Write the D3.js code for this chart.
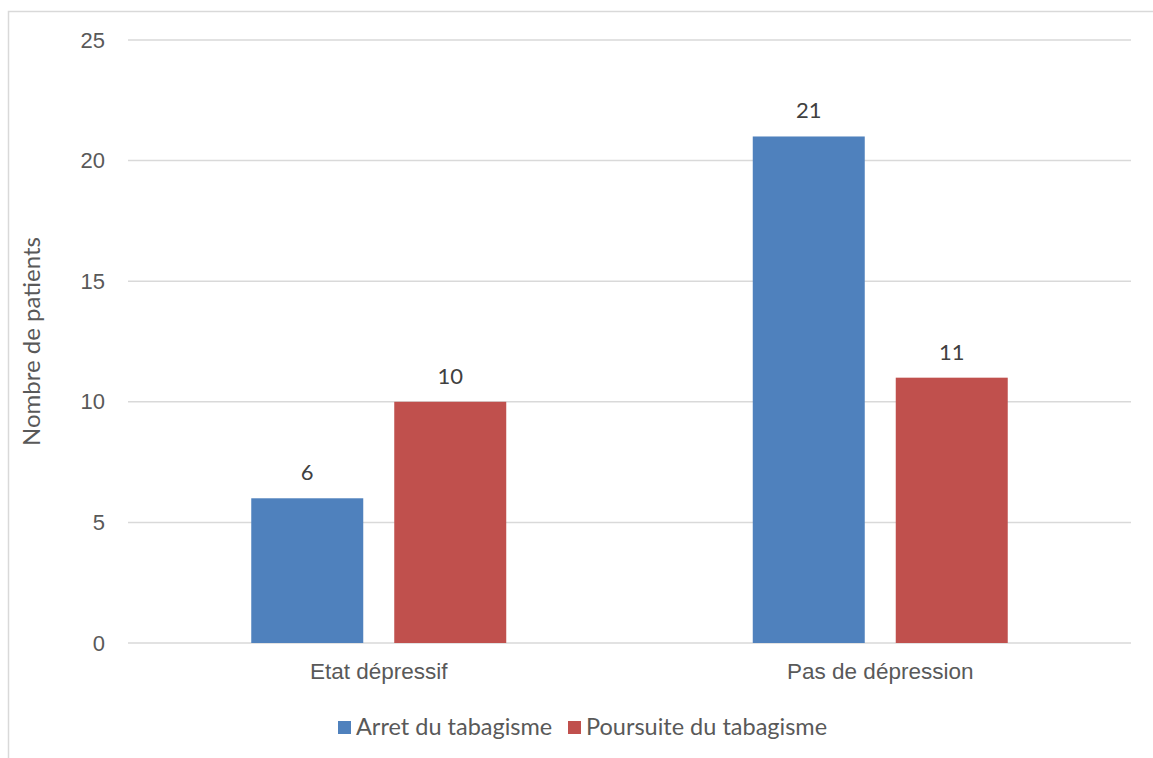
<!DOCTYPE html>
<html>
<head>
<meta charset="utf-8">
<script src="https://cdn.jsdelivr.net/npm/d3@7"></script>
<style>
  body { margin: 0; background: #fff; }
  svg { display: block; font-family: Lato, "Open Sans", sans-serif; }
</style>
</head>
<body>
<div id="chart"></div>
<script>
const categories = ["Etat dépressif", "Pas de dépression"];
const seriesNames = ["Arret du tabagisme", "Poursuite du tabagisme"];
const arret = [6, 21];
const poursuite = [10, 11];
const yTicks = [0, 5, 10, 15, 20, 25];
const colors = ["#4F81BD", "#C0504D"];

const width = 1153, height = 758;
const margin = { top: 40, right: 22, bottom: 115, left: 128 };

const svg = d3.select("#chart").append("svg")
    .attr("width", width)
    .attr("height", height);

// cadre
svg.append("rect")
    .attr("x", 8.5).attr("y", 11.5)
    .attr("width", 1160).attr("height", 780)
    .attr("fill", "none")
    .attr("stroke", "#D9D9D9")
    .attr("stroke-width", 1.5);

const x0 = d3.scaleBand()
    .domain(categories)
    .range([margin.left, width - margin.right])
    .paddingInner(0)
    .paddingOuter(0);

const x1 = d3.scaleBand()
    .domain(seriesNames)
    .range([0, x0.bandwidth()])
    .paddingInner(0.2168)
    .paddingOuter(0.862);

const y = d3.scaleLinear()
    .domain([0, 25])
    .range([height - margin.bottom, margin.top]);

// grille
svg.append("g")
    .selectAll("line")
    .data(yTicks)
    .enter()
    .append("line")
    .attr("x1", margin.left)
    .attr("x2", width - margin.right)
    .attr("y1", d => y(d))
    .attr("y2", d => y(d))
    .attr("stroke", "#D9D9D9")
    .attr("stroke-width", 1.5);

// axe Y
const yAxis = svg.append("g")
    .attr("transform", `translate(${margin.left}, 0)`)
    .call(d3.axisLeft(y).tickValues(yTicks).tickSize(0).tickPadding(23));
yAxis.select(".domain").remove();
yAxis.selectAll("text")
    .style("font-size", "22px")
    .style("fill", "#595959");

// axe X
const xAxis = svg.append("g")
    .attr("transform", `translate(0, ${y(0)})`)
    .call(d3.axisBottom(x0).tickSize(0).tickPadding(20));
xAxis.select(".domain").remove();
xAxis.selectAll("text")
    .style("font-size", "22.5px")
    .style("fill", "#595959");

// titre Y
svg.append("text")
    .attr("transform", `translate(40, ${(y(0) + y(25)) / 2}) rotate(-90)`)
    .attr("text-anchor", "middle")
    .style("font-size", "24px")
    .style("fill", "#595959")
    .text("Nombre de patients");

const rows = categories.map((c, i) => ({
    cat: c,
    values: [
        { name: seriesNames[0], value: arret[i], color: colors[0] },
        { name: seriesNames[1], value: poursuite[i], color: colors[1] }
    ]
}));

const groups = svg.selectAll(".grp")
    .data(rows)
    .enter()
    .append("g")
    .attr("class", "grp")
    .attr("transform", d => `translate(${x0(d.cat)}, 0)`);

groups.selectAll("rect")
    .data(d => d.values)
    .enter()
    .append("rect")
    .attr("x", d => x1(d.name))
    .attr("y", d => y(d.value))
    .attr("width", x1.bandwidth())
    .attr("height", d => y(0) - y(d.value))
    .attr("fill", d => d.color);

groups.selectAll(".label")
    .data(d => d.values)
    .enter()
    .append("text")
    .attr("class", "label")
    .attr("x", d => x1(d.name) + x1.bandwidth() / 2)
    .attr("y", d => y(d.value) - 18)
    .attr("text-anchor", "middle")
    .style("font-size", "22px")
    .style("fill", "#404040")
    .text(d => d.value);

// légende
const legendX = [338, 568];
const legend = svg.selectAll(".leg")
    .data(seriesNames)
    .enter()
    .append("g")
    .attr("class", "leg")
    .attr("transform", (d, i) => `translate(${legendX[i]}, 721)`);

legend.append("rect")
    .attr("width", 13)
    .attr("height", 13)
    .attr("fill", (d, i) => colors[i]);

legend.append("text")
    .attr("x", 18)
    .attr("y", 14)
    .style("font-size", "23.5px")
    .style("fill", "#595959")
    .text(d => d);
</script>
</body>
</html>
